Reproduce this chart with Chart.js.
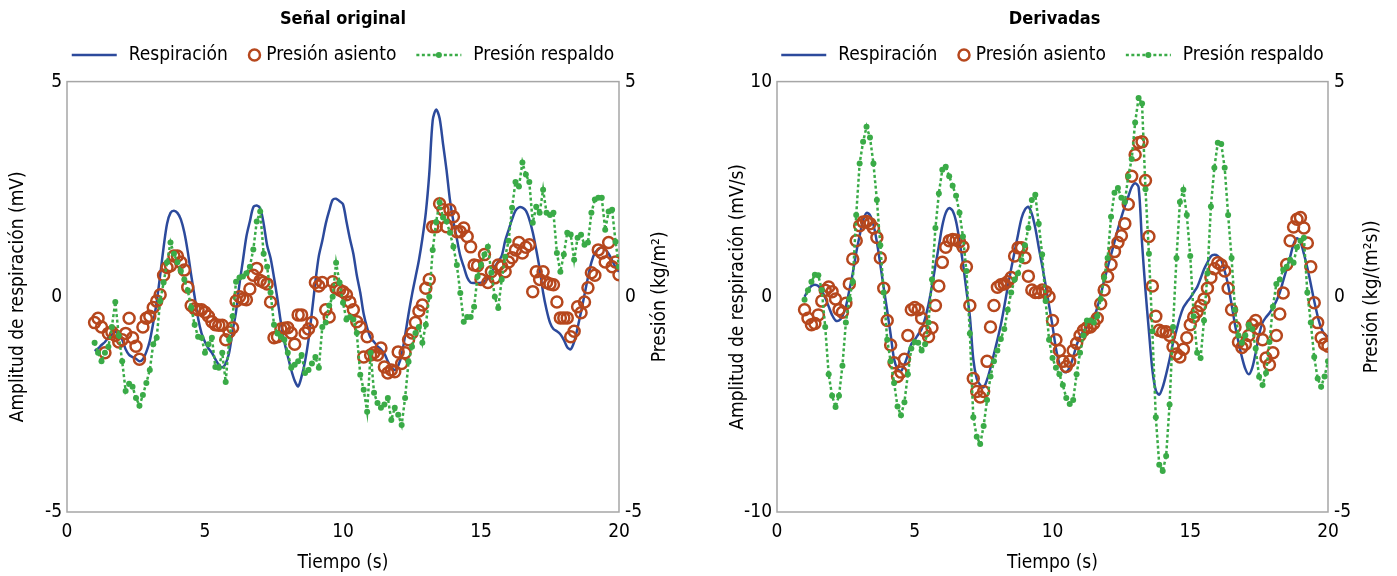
<!DOCTYPE html>
<html>
<head>
<meta charset="utf-8">
<title>Señal original y derivadas</title>
<script src="https://cdn.jsdelivr.net/npm/chart.js@4.4.1/dist/chart.umd.min.js"></script>
<style>
  body { margin: 0; background: #fff; }
  .panel { position: absolute; top: 0; height: 576px; }
  #left { left: 0; width: 686px; }
  #right { left: 712px; width: 685px; }
</style>
</head>
<body>
<div class="panel" id="left"><canvas id="chartOriginal"></canvas></div>
<div class="panel" id="right"><canvas id="chartDeriv"></canvas></div>
<script>
// Sampling: one value every 0.125 s, from 1 s to 20 s (8 values per row)
const T0 = 1;
const DT = 0.125;

const seriesLabels = ['Respiración', 'Presión asiento', 'Presión respaldo'];
const timeTicks = [0, 5, 10, 15, 20];

// --- Señal original ---
const respOriginal = [
  -1.26, -1.2, -1.12, -1.05, -0.95, -0.88, -0.82, -0.86,
  -1.0, -1.22, -1.35, -1.4, -1.44, -1.5, -1.45, -1.28,
  -1.02, -0.6, -0.12, 0.5, 1.15, 1.7, 1.95, 2.0,
  1.95, 1.8, 1.5, 1.05, 0.5, 0.0, -0.5, -0.85,
  -1.05, -1.2, -1.3, -1.45, -1.58, -1.64, -1.55, -1.3,
  -0.8, -0.35, 0.3, 0.85, 1.4, 1.75, 2.08, 2.12,
  2.05, 1.7, 1.2, 0.9, 0.45, -0.05, -0.6, -1.05,
  -1.38, -1.7, -1.95, -2.08, -1.85, -1.5, -1.0, -0.35,
  0.35, 0.95, 1.3, 1.7, 2.0, 2.25, 2.28, 2.22,
  2.15, 1.75, 1.35, 1.0, 0.5, 0.1, -0.4, -0.72,
  -0.95, -1.05, -1.15, -1.22, -1.32, -1.5, -1.64, -1.7,
  -1.6, -1.35, -0.9, -0.4, 0.05, 0.45, 0.85, 1.35,
  1.95, 2.85, 4.1, 4.35, 4.15, 3.55, 2.95, 2.25,
  1.75, 1.35, 0.95, 0.7, 0.45, 0.33, 0.32, 0.32,
  0.33, 0.36, 0.42, 0.55, 0.7, 0.82, 0.95, 1.3,
  1.55, 1.8, 2.0, 2.08, 2.07, 2.0, 1.8, 1.5,
  1.1, 0.65, 0.1, -0.3, -0.6, -0.75, -0.8, -0.87,
  -1.0, -1.17, -1.22, -1.05, -0.72, -0.35, 0.05, 0.45,
  0.8, 1.02, 1.1, 1.15, 1.1, 1.0, 0.85, 0.68,
  0.58
];
const seatOriginal = [
  -0.6, -0.5, -0.7, -1.3, -0.85, -0.82, -0.9, -1.05,
  -1.0, -0.85, -0.5, -0.95, -1.15, -1.45, -0.7, -0.5,
  -0.45, -0.25, -0.1, 0.05, 0.5, 0.68, 0.72, 0.95,
  0.95, 0.8, 0.62, 0.22, -0.2, -0.28, -0.3, -0.3,
  -0.36, -0.45, -0.58, -0.65, -0.66, -0.66, -1.0, -0.82,
  -0.72, -0.1, 0.0, -0.05, -0.07, 0.18, 0.5, 0.66,
  0.38, 0.34, 0.3, -0.12, -0.95, -0.93, -0.75, -0.73,
  -0.72, -0.84, -1.1, -0.42, -0.42, -0.84, -0.75, -0.6,
  0.33, 0.25, 0.33, -0.3, -0.47, 0.35, 0.2, 0.16,
  0.12, 0.05, -0.12, -0.3, -0.58, -0.7, -1.4, -0.93,
  -1.35, -1.3, -1.35, -1.19, -1.63, -1.77, -1.7, -1.74,
  -1.28, -1.55, -1.3, -1.0, -0.84, -0.6, -0.33, -0.19,
  0.2, 0.4, 1.63, 1.63, 2.16, 2.02, 1.63, 2.02,
  1.86, 1.51, 1.51, 1.6, 1.4, 1.16, 0.74, 0.72,
  0.4, 0.98, 0.33, 0.58, 0.44, 0.74, 0.7, 0.58,
  0.81, 0.91, 1.09, 1.26, 1.02, 1.15, 1.21, 0.12,
  0.58, 0.4, 0.58, 0.33, 0.3, 0.28, -0.12, -0.49,
  -0.49, -0.49, -0.93, -0.8, -0.23, -0.37, -0.12, 0.21,
  0.56, 0.5, 1.09, 1.02, 0.81, 1.26, 0.7, 0.81,
  0.51
];
const backOriginal = [
  -1.07, -1.3, -1.5, -1.3, -1.16, -0.7, -0.12, -0.9,
  -1.5, -2.19, -2.02, -2.09, -2.35, -2.53, -2.28, -2.0,
  -1.7, -1.1, -0.95, -0.1, 0.33, 0.8, 1.26, 1.0,
  0.8, 0.6, 0.4, 0.15, -0.25, -0.65, -0.93, -0.95,
  -1.3, -1.1, -0.95, -1.63, -1.65, -1.3, -1.98, -1.0,
  -0.45, 0.35, 0.45, 0.47, 0.55, 0.7, 1.1, 1.75,
  1.98, 1.0, 0.7, 0.1, -0.65, -0.85, -0.93, -1.0,
  -1.3, -1.65, -1.58, -1.5, -1.35, -1.77, -1.7, -1.55,
  -1.4, -1.65, -0.7, -0.6, -0.2, 0.0, 0.79, 0.33,
  -0.14, -0.53, -0.47, -0.53, -0.84, -1.81, -2.16, -2.67,
  -1.3, -2.23, -2.47, -2.58, -2.5, -2.35, -2.86, -2.58,
  -2.74, -2.98, -2.35, -1.51, -1.16, -0.84, -0.7, -1.07,
  -0.65, 0.0, 1.09, 1.74, 2.19, 1.84, 1.75, 1.49,
  1.16, 0.74, 0.09, -0.58, -0.47, -0.47, -0.23, 0.47,
  0.74, 0.98, 1.16, 0.56, 0.0, -0.26, 0.4, 0.93,
  1.3, 2.07, 2.67, 2.56, 3.12, 2.84, 2.67, 1.72,
  2.09, 1.95, 2.49, 1.95, 1.9, 1.95, 1.02, 0.58,
  0.98, 1.49, 1.45, 0.86, 1.37, 1.44, 1.21, 1.26,
  1.95, 2.26, 2.3, 2.3, 1.56, 1.98, 2.02, 1.28,
  0.7
];

// --- Derivadas ---
const respDeriv = [
  0.0, 0.3, 0.5, 0.56, 0.5, 0.3, -0.05, -0.45,
  -0.85, -1.1, -1.1, -0.9, -0.45, 0.3, 1.1, 2.05,
  2.85, 3.55, 3.9, 3.8, 3.35, 2.55, 1.5, 0.4,
  -0.65, -1.75, -2.9, -3.35, -3.45, -3.15, -2.7, -2.2,
  -2.0, -1.75, -1.5, -1.0, -0.35, 0.5, 1.45, 2.35,
  3.3, 3.9, 4.12, 4.0, 3.5, 2.6, 1.55, 0.3,
  -0.9, -2.9, -3.8, -4.1, -4.2, -3.85, -3.3, -2.65,
  -2.0, -1.3, -0.45, 0.45, 1.3, 2.1, 2.9, 3.65,
  4.05, 4.18, 3.85, 3.2, 2.3, 1.45, 0.55, -0.4,
  -1.35, -2.4, -3.1, -3.45, -3.5, -3.28, -2.8, -2.25,
  -1.85, -1.6, -1.4, -1.2, -0.98, -0.5, 0.1, 0.75,
  1.35, 1.95, 2.55, 3.15, 3.7, 4.2, 4.65, 5.1,
  5.28, 5.1, 2.5, 0.3, -1.6, -3.4, -4.35, -4.55,
  -4.2, -3.6, -2.9, -2.15, -1.55, -0.95, -0.5, -0.25,
  -0.05, 0.2, 0.45, 0.85, 1.28, 1.6, 1.88, 1.95,
  1.9, 1.7, 1.2, 0.55, -0.35, -1.3, -2.1, -2.8,
  -3.35, -3.6, -3.3, -2.6, -1.75, -1.2, -0.95, -0.75,
  -0.5, -0.2, 0.2, 0.75, 1.3, 1.85, 2.45, 2.72,
  2.55, 2.0, 1.35, 0.6, -0.2, -0.9, -1.45, -1.75,
  -1.86
];
const seatDeriv = [
  -0.3, -0.5, -0.65, -0.62, -0.42, -0.1, 0.15, 0.23,
  0.12, -0.05, -0.3, -0.36, -0.15, 0.3, 0.88, 1.3,
  1.65, 1.74, 1.75, 1.7, 1.6, 1.38, 0.9, 0.2,
  -0.55, -1.12, -1.53, -1.85, -1.75, -1.45, -0.9, -0.3,
  -0.25, -0.3, -0.5, -0.8, -0.93, -0.72, -0.2, 0.25,
  0.8, 1.15, 1.3, 1.33, 1.32, 1.28, 1.16, 0.7,
  -0.2, -1.9, -2.2, -2.33, -2.2, -1.5, -0.7, -0.2,
  0.22, 0.28, 0.3, 0.35, 0.45, 0.95, 1.14, 1.14,
  0.91, 0.48, 0.16, 0.1, 0.1, 0.16, 0.12, 0.0,
  -0.55, -1.0, -1.25, -1.5, -1.62, -1.5, -1.25, -1.08,
  -0.9, -0.78, -0.72, -0.7, -0.62, -0.5, -0.16, 0.16,
  0.47, 0.75, 1.05, 1.26, 1.42, 1.7, 2.15, 2.8,
  3.3, 3.58, 3.6, 2.7, 1.4, 0.25, -0.45, -0.78,
  -0.81, -0.81, -0.9, -1.16, -1.33, -1.4, -1.22, -0.95,
  -0.65, -0.47, -0.35, -0.2, -0.05, 0.2, 0.45, 0.65,
  0.79, 0.74, 0.6, 0.2, -0.3, -0.7, -1.05, -1.18,
  -1.1, -0.9, -0.65, -0.55, -0.75, -1.0, -1.42, -1.58,
  -1.3, -0.9, -0.4, 0.09, 0.75, 1.3, 1.62, 1.8,
  1.84, 1.6, 1.25, 0.7, -0.14, -0.6, -0.95, -1.1,
  -1.15
];
const backDeriv = [
  -0.07, 0.15, 0.35, 0.51, 0.5, 0.16, -0.7, -1.8,
  -2.3, -2.56, -2.3, -1.6, -0.6, -0.05, 0.35, 1.9,
  3.1, 3.6, 3.95, 3.7, 3.1, 2.25, 1.2, 0.1,
  -1.0, -1.5, -2.0, -2.55, -2.75, -2.45, -1.8, -1.2,
  -1.05, -1.07, -1.25, -1.1, -0.6, 0.4, 1.6, 2.4,
  2.95, 3.02, 2.8, 2.58, 2.35, 1.95, 1.4, 0.6,
  -0.85, -2.8, -3.25, -3.42, -3.0, -2.4, -1.85, -1.5,
  -1.25, -0.98, -0.75, -0.3, 0.1, 0.4, 0.55, 0.85,
  1.2, 1.6, 2.25, 2.37, 1.7, 0.98, -0.1, -1.0,
  -1.42, -1.65, -1.8, -2.05, -2.35, -2.49, -2.4, -1.8,
  -1.3, -0.9, -0.55, -0.55, -0.6, -0.45, -0.05, 0.45,
  0.9, 1.86, 2.42, 2.53, 2.3, 2.2, 2.8, 3.2,
  4.05, 4.62, 4.49, 2.5, 1.0, -0.8, -2.8, -3.9,
  -4.05, -3.7, -2.5, -0.7, 0.9, 2.2, 2.49, 1.9,
  0.95, -0.45, -1.3, -1.42, -0.55, 0.55, 2.1, 3.0,
  3.58, 3.55, 3.0, 1.9, 0.9, -0.3, -0.9, -1.07,
  -0.9, -0.65, -0.75, -1.2, -1.86, -2.05, -1.77, -1.05,
  -0.23, 0.3, 0.4, 0.63, 0.7, 0.86, 0.79, 1.15,
  1.3, 1.37, 0.1, -0.6, -1.4, -1.9, -2.09, -1.85,
  -1.5
];

const FONT = '"Liberation Sans Narrow", "DejaVu Sans Condensed", "Arial Narrow", sans-serif';
const FONT_SIZE = 19;
Chart.defaults.font.family = FONT;
Chart.defaults.font.size = FONT_SIZE;
Chart.defaults.color = '#000';

const BLUE = '#2c4a9c';
const ORANGE = '#b6471d';
const GREEN = '#3aab47';
const FRAME = '#a6a6a6';

const toPoints = arr => arr.map((v, i) => ({ x: T0 + i * DT, y: v }));
const fixTicks = list => scale => { scale.ticks = list.map(v => ({ value: v })); };

// grey box around the plot area
const frame = {
  id: 'frame',
  beforeDatasetsDraw(chart) {
    const { ctx, chartArea: a } = chart;
    ctx.save();
    ctx.strokeStyle = FRAME;
    ctx.lineWidth = 1.5;
    ctx.strokeRect(a.left, a.top, a.right - a.left, a.bottom - a.top);
    ctx.restore();
  }
};

// one-row legend under the title, icons built from the dataset styles
const rowLegend = {
  id: 'rowLegend',
  afterDraw(chart, args, opts) {
    const { ctx, chartArea: a } = chart;
    ctx.save();
    ctx.font = `${FONT_SIZE}px ${FONT}`;
    const items = chart.data.datasets.map(ds => {
      const marker = ds.showLine === false;
      return {
        ds,
        marker,
        iconW: marker ? 2 * ds.pointRadius + ds.pointBorderWidth : 45,
        gap: marker ? 5 : 12,
        textW: ctx.measureText(ds.label).width
      };
    });
    const spacing = 20;
    const total = items.reduce((s, it) => s + it.iconW + it.gap + it.textW, 0) + spacing * (items.length - 1);
    let x = (a.left + a.right) / 2 - total / 2;
    const y = opts.y;
    items.forEach(it => {
      const ds = it.ds;
      if (it.marker) {
        ctx.beginPath();
        ctx.arc(x + it.iconW / 2, y, ds.pointRadius, 0, 2 * Math.PI);
        ctx.lineWidth = ds.pointBorderWidth;
        ctx.strokeStyle = ds.pointBorderColor;
        ctx.stroke();
      } else {
        ctx.beginPath();
        ctx.setLineDash(ds.borderDash || []);
        ctx.lineWidth = ds.borderWidth;
        ctx.strokeStyle = ds.borderColor;
        ctx.moveTo(x, y);
        ctx.lineTo(x + it.iconW, y);
        ctx.stroke();
        ctx.setLineDash([]);
        if (ds.pointRadius > 0) {
          ctx.beginPath();
          ctx.arc(x + it.iconW / 2, y, ds.pointRadius, 0, 2 * Math.PI);
          ctx.fillStyle = ds.pointBackgroundColor;
          ctx.fill();
        }
      }
      x += it.iconW + it.gap;
      ctx.fillStyle = '#000';
      ctx.textAlign = 'left';
      ctx.textBaseline = 'middle';
      ctx.fillText(ds.label, x, y);
      x += it.textW + spacing;
    });
    ctx.restore();
  }
};

// secondary axis title, written bottom-to-top like the primary one
const sideTitle = {
  id: 'sideTitle',
  afterDraw(chart, args, opts) {
    const { ctx, chartArea: a } = chart;
    ctx.save();
    ctx.font = `${FONT_SIZE}px ${FONT}`;
    ctx.fillStyle = '#000';
    ctx.textAlign = 'center';
    ctx.textBaseline = 'middle';
    ctx.translate(chart.width - opts.offset, (a.top + a.bottom) / 2);
    ctx.rotate(-Math.PI / 2);
    ctx.fillText(opts.text, 0, 0);
    ctx.restore();
  }
};

function buildChart(id, p) {
  return new Chart(document.getElementById(id), {
    type: 'line',
    data: {
      datasets: [
        {
          label: seriesLabels[0], data: toPoints(p.resp), yAxisID: 'y', order: 2,
          borderColor: BLUE, borderWidth: 2.5, pointRadius: 0, tension: 0.3
        },
        {
          label: seriesLabels[1], data: toPoints(p.seat), yAxisID: 'y1', order: 1,
          showLine: false, pointStyle: 'circle', pointRadius: 5.5, pointBorderWidth: 2.5,
          pointBorderColor: ORANGE, pointBackgroundColor: 'rgba(0,0,0,0)', borderColor: ORANGE
        },
        {
          label: seriesLabels[2], data: toPoints(p.back), yAxisID: 'y1', order: 0,
          borderColor: GREEN, borderWidth: 2.5, borderDash: [3, 2.5], tension: 0,
          pointRadius: 3, pointBorderWidth: 0, pointBackgroundColor: GREEN, pointBorderColor: GREEN
        }
      ]
    },
    options: {
      responsive: true,
      maintainAspectRatio: false,
      animation: false,
      layout: { padding: 0 },
      plugins: {
        legend: { display: false },
        tooltip: { enabled: false },
        title: {
          display: true, text: p.title, color: '#000',
          font: { size: 18, weight: 'bold' }, padding: { top: 9, bottom: 51 }
        },
        rowLegend: { y: 55 },
        sideTitle: { text: p.rightTitle, offset: p.rightTitleOffset }
      },
      scales: {
        x: {
          type: 'linear', min: 0, max: 20,
          afterBuildTicks: fixTicks(timeTicks),
          grid: { display: false, drawTicks: false }, border: { display: false },
          ticks: { padding: 9, maxRotation: 0 },
          title: { display: true, text: 'Tiempo (s)', padding: { top: 0, bottom: 2 } },
          afterFit: s => { s.height = 64; }
        },
        y: {
          position: 'left', min: p.leftTicks[0], max: p.leftTicks[p.leftTicks.length - 1],
          afterBuildTicks: fixTicks(p.leftTicks),
          grid: { display: false, drawTicks: false }, border: { display: false },
          ticks: { padding: 5 },
          title: { display: true, text: p.leftTitle, padding: { top: p.leftTitlePad, bottom: 0 } },
          afterFit: s => { s.width = p.leftWidth; }
        },
        y1: {
          position: 'right', min: p.rightTicks[0], max: p.rightTicks[p.rightTicks.length - 1],
          afterBuildTicks: fixTicks(p.rightTicks),
          grid: { display: false, drawTicks: false }, border: { display: false },
          ticks: { padding: 6 },
          afterFit: s => { s.width = p.rightWidth; }
        }
      }
    },
    plugins: [frame, rowLegend, sideTitle]
  });
}

buildChart('chartOriginal', {
  title: 'Señal original',
  resp: respOriginal, seat: seatOriginal, back: backOriginal,
  leftTicks: [-5, 0, 5], rightTicks: [-5, 0, 5],
  leftTitle: 'Amplitud de respiración (mV)', leftTitlePad: 7,
  rightTitle: 'Presión (kg/m²)', rightTitleOffset: 26,
  leftWidth: 67, rightWidth: 67
});

buildChart('chartDeriv', {
  title: 'Derivadas',
  resp: respDeriv, seat: seatDeriv, back: backDeriv,
  leftTicks: [-10, 0, 10], rightTicks: [-5, 0, 5],
  leftTitle: 'Amplitud de respiración (mV/s)', leftTitlePad: 15,
  rightTitle: 'Presión (kg/(m²s))', rightTitleOffset: 25,
  leftWidth: 65, rightWidth: 69
});
</script>
</body>
</html>
